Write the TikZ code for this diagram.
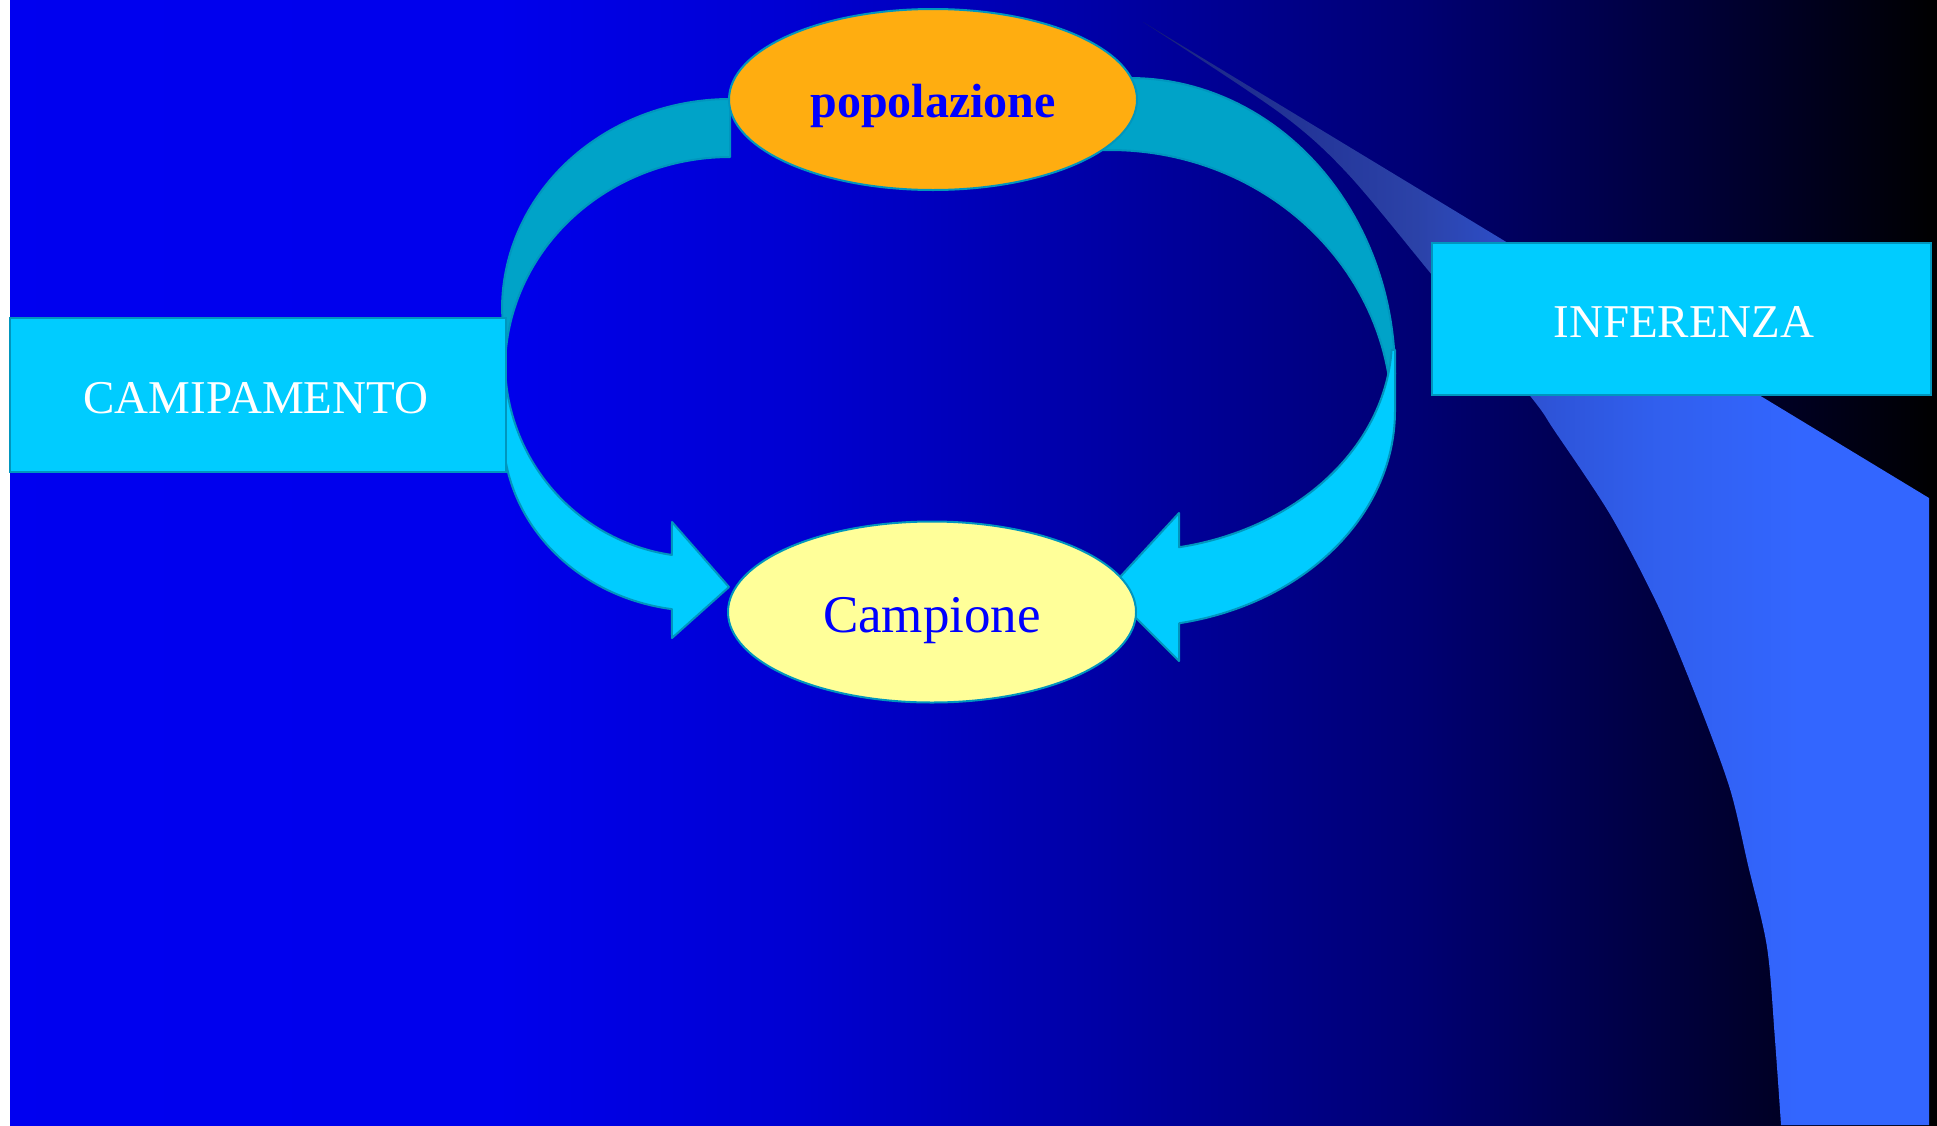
\documentclass[tikz,border=0pt]{standalone}
\usepackage{fontspec}
\setmainfont{Liberation Serif}
\usetikzlibrary{shapes.geometric}
\definecolor{boxfill}{RGB}{0,204,255}
\definecolor{boxline}{RGB}{0,150,190}
\definecolor{arrowdark}{RGB}{0,163,200}
\definecolor{arrowlight}{RGB}{0,204,255}
\definecolor{popfill}{RGB}{255,173,16}
\definecolor{campfill}{RGB}{255,255,153}
\definecolor{txtblue}{RGB}{0,0,255}
\pgfdeclarehorizontalshading{bgshade}{100bp}{rgb(0bp)=(0,0,0.94); rgb(25bp)=(0,0,0.94); rgb(37.7bp)=(0,0,0.925); rgb(45.5bp)=(0,0,0.82); rgb(53.3bp)=(0,0,0.647); rgb(61.5bp)=(0,0,0.45); rgb(68.85bp)=(0,0,0.216); rgb(75bp)=(0,0,0); rgb(100bp)=(0,0,0)}
\pgfdeclarehorizontalshading{swshade}{100bp}{rgb(0bp)=(0.08,0.1,0.45); rgb(25bp)=(0.08,0.1,0.45); rgb(28.5bp)=(0.11,0.16,0.54); rgb(42.5bp)=(0.17,0.26,0.66); rgb(51bp)=(0.18,0.33,0.85); rgb(57.25bp)=(0.19,0.37,0.93); rgb(66.8bp)=(0.2,0.4,1); rgb(75bp)=(0.2,0.4,1); rgb(100bp)=(0.2,0.4,1)}
\tikzset{
  arrowpart/.style={draw=boxline, line width=1pt, line join=round},
  labelbox/.style={rectangle, draw=boxline, fill=boxfill, line width=1pt, inner sep=0pt},
  oval/.style={ellipse, draw=boxline, line width=1pt, inner sep=0pt, minimum width=204pt, minimum height=90.5pt},
  boxtext/.style={anchor=base, text=white, font=\fontsize{23.5}{28}\selectfont, inner sep=0pt},
}
\begin{document}
\begin{tikzpicture}[x=0.5pt,y=-0.5pt]
\useasboundingbox (0,0) rectangle (1937,1125);
% background
\fill[white] (0,0) rectangle (1937,1125);
\shade[shading=bgshade] (10,0) rectangle (1937,1125);
% swoosh
\shade[shading=swshade] (1143,22) -- (1929,498) -- (1929,1125) -- plot[smooth] coordinates {(1781,1125) (1775,1040) (1767,947) (1748,865) (1730,789) (1699,704) (1660,610) (1611,516) (1554,430) (1531,397) (1432,275) (1347,173) (1280,113) (1143,22)} -- cycle;
% left curved arrow
\filldraw[arrowpart, fill=arrowdark] plot[domain=270:180, samples=60] ({730+228*cos(\x)},{309+210*sin(\x)}) -- plot[domain=180:270, samples=60] ({730+225*cos(\x)},{369+212*sin(\x)}) -- cycle;
\filldraw[arrowpart, fill=arrowlight] (503,340) -- plot[domain=180:98.2, samples=60] ({700+197*cos(\x)},{432+179*sin(\x)}) -- (672,638) -- (729,587) -- (672,522) -- plot[domain=98.3:180, samples=60] ({700+195*cos(\x)},{362+195*sin(\x)}) -- (505,340) -- cycle;
% right curved arrow
\filldraw[arrowpart, fill=arrowdark] plot[domain=260:360, samples=60] ({1130+265*cos(\x)},{374+296*sin(\x)}) -- plot[domain=352:260, samples=60] ({1110+282*cos(\x)},{417+267*sin(\x)}) -- cycle;
\filldraw[arrowpart, fill=arrowlight] (1395,350) -- plot[domain=0:79.3, samples=60] ({1130+265*cos(\x)},{411+216*sin(\x)}) -- (1179,661) -- (1108,590) -- (1179,513) -- plot[domain=79.2:3.2, samples=60] ({1130+262*cos(\x)},{338+213*sin(\x)}) -- cycle;
% ellipses
\node[oval, fill=popfill] (pop) at (933,99.5) {};
\node[oval, fill=campfill] (camp) at (932,612) {};
\node[anchor=base, inner sep=0pt, text=txtblue, font=\fontsize{24}{28}\selectfont\bfseries] (poptxt) at (933,117) {popolazione};
\node[anchor=base, inner sep=0pt, text=txtblue, font=\fontsize{26.5}{30}\selectfont] (camptxt) at (932,632) {Campione};
% boxes
\node[labelbox, minimum width=248pt, minimum height=77pt] (campbox) at (258,395) {};
\node[labelbox, minimum width=249.5pt, minimum height=76pt] (infbox) at (1681.5,319) {};
\node[boxtext] (camtxt) at (256,413) {CAMIPAMENTO};
\node[boxtext] (inftxt) at (1684,337) {INFERENZA};
\end{tikzpicture}
\end{document}
